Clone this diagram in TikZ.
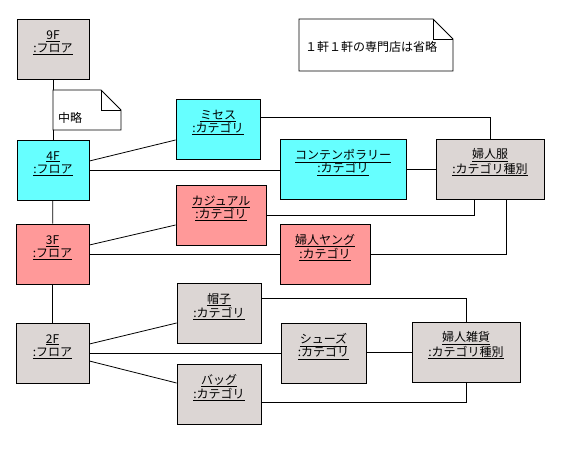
\documentclass[tikz,border=0pt]{standalone}
\usepackage{fontspec}
\newfontfamily\jpfont{Noto Sans CJK JP}
\definecolor{objgray}{RGB}{220,214,212}
\definecolor{objcyan}{RGB}{102,255,255}
\definecolor{objpink}{RGB}{255,153,153}

\tikzset{
  obj/.style={draw, line width=0.8pt, minimum height=60, inner sep=0pt},
  lbl/.style={align=center, inner sep=0pt, yshift=6.5},
  link/.style={line width=0.8pt},
  note/.style={draw, line width=0.8pt, fill=white},
}

\begin{document}
\begin{tikzpicture}[x=1pt, y=-1pt, font=\jpfont\fontsize{12}{13}\selectfont]
\useasboundingbox (0,0) rectangle (569,449);

% floors
\node[obj, fill=objgray, minimum width=72] (f9) at (53,49) {};
\node[obj, fill=objcyan, minimum width=72] (f4) at (53,170) {};
\node[obj, fill=objpink, minimum width=73] (f3) at (52.5,254) {};
\node[obj, fill=objgray, minimum width=73] (f2) at (52.5,353) {};

% categories
\node[obj, fill=objcyan, minimum width=84] (mises) at (218,129) {};
\node[obj, fill=objcyan, minimum width=126] (contemp) at (343,169) {};
\node[obj, fill=objpink, minimum width=90] (casual) at (221,215) {};
\node[obj, fill=objpink, minimum width=90] (young) at (325,254) {};
\node[obj, fill=objgray, minimum width=84] (hat) at (219,313) {};
\node[obj, fill=objgray, minimum width=85] (shoes) at (323.5,353) {};
\node[obj, fill=objgray, minimum width=84] (bag) at (219,394) {};

% kinds
\node[obj, fill=objgray, minimum width=108] (fuku) at (490,169) {};
\node[obj, fill=objgray, minimum width=108] (zakka) at (466,352) {};

% labels
\node[lbl] (f9t) at (f9) {\underline{9F}\\\underline{:フロア}};
\node[lbl] (f4t) at (f4) {\underline{4F}\\\underline{:フロア}};
\node[lbl] (f3t) at (f3) {\underline{3F}\\\underline{:フロア}};
\node[lbl] (f2t) at (f2) {\underline{2F}\\\underline{:フロア}};
\node[lbl] (misest) at (mises) {\underline{ミセス}\\\underline{:カテゴリ}};
\node[lbl] (contempt) at (contemp) {\underline{コンテンポラリー}\\\underline{:カテゴリ}};
\node[lbl] (casualt) at (casual) {\underline{カジュアル}\\\underline{:カテゴリ}};
\node[lbl] (youngt) at (young) {\underline{婦人ヤング}\\\underline{:カテゴリ}};
\node[lbl] (hatt) at (hat) {\underline{帽子}\\\underline{:カテゴリ}};
\node[lbl] (shoest) at (shoes) {\underline{シューズ}\\\underline{:カテゴリ}};
\node[lbl] (bagt) at (bag) {\underline{バッグ}\\\underline{:カテゴリ}};
\node[lbl] (fukut) at (fuku) {\underline{婦人服}\\\underline{:カテゴリ種別}};
\node[lbl] (zakkat) at (zakka) {\underline{婦人雑貨}\\\underline{:カテゴリ種別}};

% floor links
\draw[link] (f9) -- (f4);
\draw[link] (f4) -- (f3);
\draw[link] (f3) -- (f2);

% 4F
\draw[link] ([yshift=9]f4.east) -- ([yshift=-11]mises.west);
\draw[link] (f4.east) -- (f4.east -| contemp.west);
% 3F
\draw[link] ([yshift=9]f3.east) -- ([yshift=-10]casual.west);
\draw[link] (f3.east) -- (f3.east -| young.west);
% 2F
\draw[link] ([yshift=9]f2.east) -- ([yshift=-10]hat.west);
\draw[link] (f2.east) -- (f2.east -| shoes.west);
\draw[link] ([yshift=-8]f2.east) -- ([yshift=11]bag.west);

% category -> kind
\draw[link] ([yshift=12]mises.east) -| (fuku.north);
\draw[link] (contemp.east) -- (contemp.east -| fuku.west);
\draw[link] (casual.east) -| ([xshift=-16]fuku.south);
\draw[link] (young.east) -| ([xshift=16]fuku.south);
\draw[link] ([yshift=15]hat.east) -| (zakka.north);
\draw[link] (zakka.west -| shoes.east) -- (zakka.west);
\draw[link] ([yshift=-8]bag.east) -| (zakka.south);

% notes
\draw[note] (53,90) -- (101,90) -- (121,110) -- (121,130) -- (53,130) -- cycle;
\draw[link] (101,90) -- (101,110) -- (121,110);
\node[anchor=west, inner sep=0pt] (omit) at (58,118) {中略};

\draw[note] (299,19) -- (433,19) -- (453,39) -- (453,71) -- (299,71) -- cycle;
\draw[link] (433,19) -- (433,39) -- (453,39);
\node[anchor=west, inner sep=0pt] (shops) at (305,47) {１軒１軒の専門店は省略};

\end{tikzpicture}
\end{document}
